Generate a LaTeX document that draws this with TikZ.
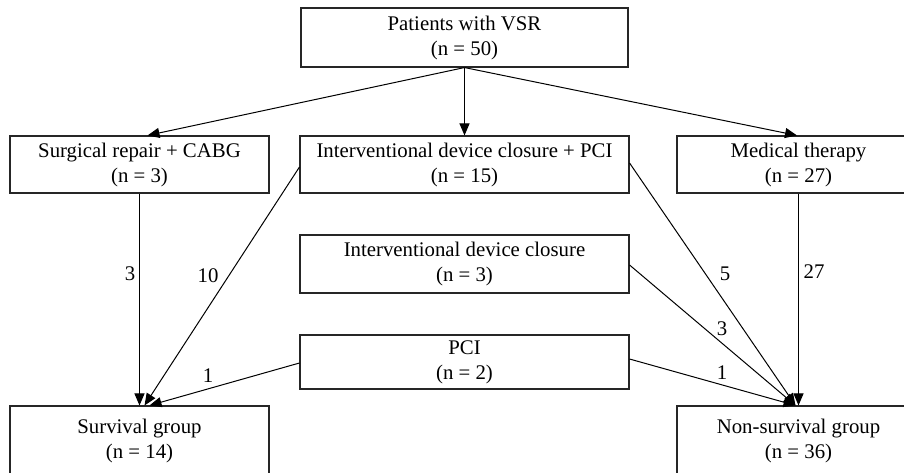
\documentclass[tikz,border=0pt]{standalone}
\usepackage{fontspec}
\setmainfont{Liberation Serif}
\usetikzlibrary{arrows.meta}
\begin{document}
\begin{tikzpicture}[x=1pt,y=-1pt,
  font=\fontsize{20.8}{25}\selectfont,
  box/.style={draw=black!85, line width=1.1pt, align=center, inner sep=0pt},
  conn/.style={draw=black, line width=1pt, -{Triangle[length=12pt,width=10pt]}},
  lbl/.style={inner sep=0pt}]
\useasboundingbox (0,0) rectangle (904,472);
\clip (0,0) rectangle (904,472);
% boxes
\node[box, minimum width=327pt, minimum height=59pt] (top) at (464.5,37.5) {Patients with VSR\\(n = 50)};
\node[box, minimum width=259pt, minimum height=57pt] (surg) at (139.5,164.5) {Surgical repair + CABG\\(n = 3)};
\node[box, minimum width=329pt, minimum height=57pt] (idcpci) at (464.5,164.5) {Interventional device closure + PCI\\(n = 15)};
\node[box, minimum width=243pt, minimum height=57pt] (med) at (798.5,164.5) {Medical therapy\\(n = 27)};
\node[box, minimum width=329pt, minimum height=58pt] (idc) at (464.5,264) {Interventional device closure\\(n = 3)};
\node[box, minimum width=329pt, minimum height=54pt] (pci) at (464.5,362) {PCI\\(n = 2)};
\node[box, minimum width=259pt, minimum height=70pt] (surv) at (139.5,441) {Survival group\\(n = 14)};
\node[box, minimum width=243pt, minimum height=70pt] (nonsurv) at (798.5,441) {Non-survival group\\(n = 36)};
% top arrows
\draw[conn] (top.south) -- ([xshift=8pt]surg.north);
\draw[conn] (top.south) -- (idcpci.north);
\draw[conn] (top.south) -- ([xshift=-1.5pt]med.north);
% to survival
\draw[conn] (surg.south) -- (surv.north);
\draw[conn] ([yshift=-2.5pt]idcpci.west) -- ([xshift=5pt]surv.north);
\draw[conn] ([yshift=-1pt]pci.west) -- ([xshift=10pt]surv.north);
% to non-survival
\draw[conn] (med.south) -- (nonsurv.north);
\draw[conn] ([yshift=1.5pt]idcpci.east) -- ([xshift=-3pt]nonsurv.north);
\draw[conn] ([yshift=-1pt]idc.east) -- ([xshift=-3pt]nonsurv.north);
\draw[conn] ([yshift=3pt]pci.east) -- ([xshift=-3pt]nonsurv.north);
% labels
\node[lbl] (l1) at (130,274) {3};
\node[lbl] (l2) at (208,276) {10};
\node[lbl] (l3) at (208,376) {1};
\node[lbl] (l4) at (725,274) {5};
\node[lbl] (l5) at (814,272) {27};
\node[lbl] (l6) at (722,329) {3};
\node[lbl] (l7) at (722,373) {1};
\end{tikzpicture}
\end{document}
